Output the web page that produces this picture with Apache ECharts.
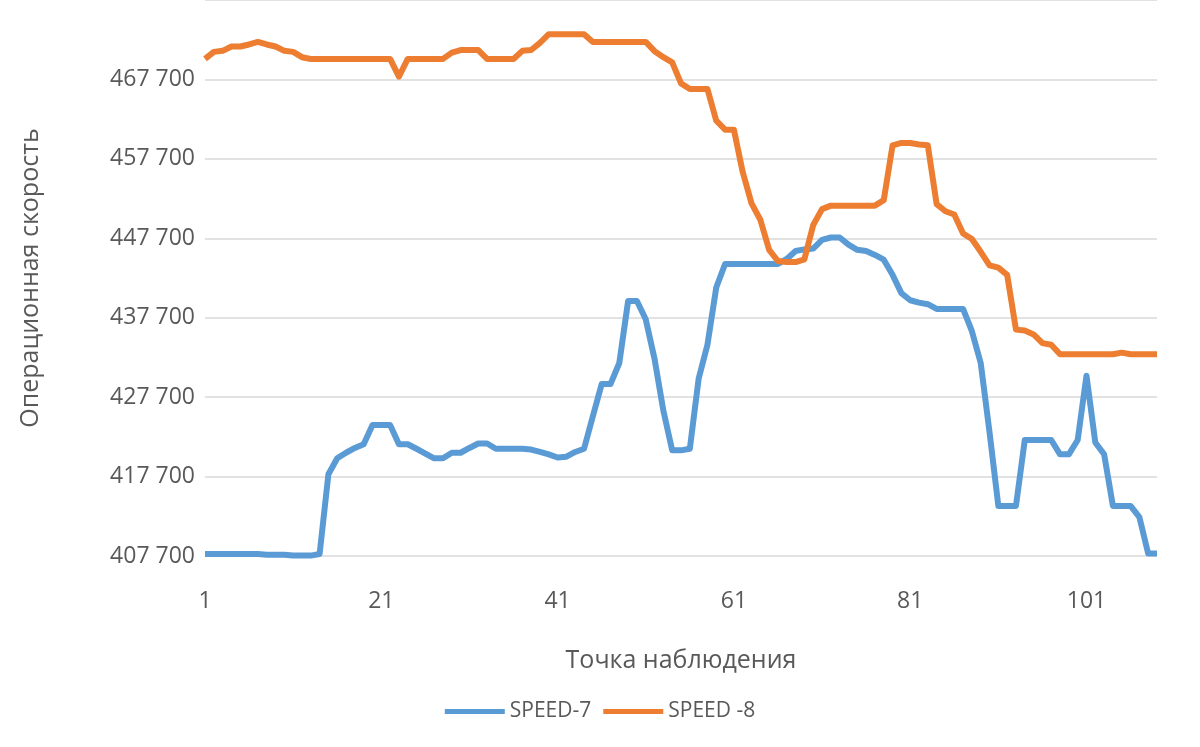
<!DOCTYPE html>
<html><head><meta charset="utf-8">
<script src="https://cdn.jsdelivr.net/npm/echarts@6/dist/echarts.min.js"></script>
<style>html,body{margin:0;padding:0;background:#fff}#c{width:1200px;height:747px}</style>
</head><body><div id="c"></div>
<script>
var categories = [];
for (var k = 1; k <= 109; k++) categories.push(String(k));
var speed7 = [407950,407950,407950,407950,407950,407950,407950,407850,407850,407850,
407750,407750,407750,407950,417990,420000,420700,421300,421770,424200,
424200,424200,421770,421770,421200,420600,420000,420000,420700,420700,
421300,421860,421860,421200,421200,421200,421200,421100,420800,420500,
420100,420200,420800,421200,425300,429340,429340,432000,439800,439800,
437500,432500,426000,421000,421000,421200,430000,434300,441500,444470,
444470,444470,444470,444470,444470,444470,445100,446100,446300,446400,
447500,447800,447800,446900,446250,446100,445600,445000,443100,440800,
439900,439600,439400,438800,438800,438800,438800,436000,432000,423300,
414000,414000,414000,422300,422300,422300,422300,420500,420500,422300,
430400,422000,420500,414000,414000,414000,412600,408000,408000];
var speed8 = [470280,471170,471300,471840,471840,472100,472420,472100,471840,471300,
471170,470500,470280,470280,470280,470280,470280,470280,470280,470280,
470280,470280,468050,470280,470280,470280,470280,470280,471080,471400,
471400,471400,470280,470280,470280,470280,471300,471400,472300,473400,
473400,473400,473400,473400,472420,472420,472420,472420,472420,472420,
472420,471260,470500,469840,467200,466500,466500,466500,462500,461380,
461380,456040,452100,450030,446250,444830,444700,444700,445050,449370,
451370,451810,451810,451810,451810,451810,451810,452500,459400,459700,
459700,459500,459400,452000,451100,450700,448300,447600,446000,444300,
444000,443100,436200,436100,435600,434500,434300,433100,433100,433100,
433100,433100,433100,433100,433300,433100,433100,433100,433100];
var yMin = 407700, yMax = 477700, yStep = 10000;
var font = '"Open Sans", "Noto Sans", sans-serif';
var chart = echarts.init(document.getElementById('c'));
chart.setOption({
  animation: false,
  grid: {left: 205, right: 43, top: -5, bottom: 191, containLabel: false},
  legend: {
    bottom: 20, left: 'center', icon: 'rect', itemWidth: 60, itemHeight: 5, itemGap: 12,
    textStyle: {fontSize: 21, color: '#595959', fontFamily: font},
    data: ['SPEED-7', 'SPEED -8']
  },
  xAxis: {
    type: 'category', data: categories, boundaryGap: false,
    name: 'Точка наблюдения', nameLocation: 'middle', nameGap: 92,
    nameTextStyle: {fontSize: 25, color: '#595959', fontFamily: font},
    axisLine: {show: false}, axisTick: {show: false},
    axisLabel: {interval: 19, fontSize: 23, color: '#595959', margin: 34, fontFamily: font}
  },
  yAxis: {
    type: 'value', min: yMin, max: yMax, interval: yStep,
    name: 'Операционная скорость', nameLocation: 'middle', nameGap: 162,
    nameTextStyle: {fontSize: 25, color: '#595959', fontFamily: font},
    axisLine: {show: false}, axisTick: {show: false},
    splitLine: {lineStyle: {color: '#d9d9d9', width: 1.5}},
    axisLabel: {fontSize: 23, color: '#595959', margin: 10, fontFamily: font,
      formatter: function (v) { if (v >= yMax) return ''; var s = String(v); return s.slice(0, s.length - 3) + ' ' + s.slice(-3); }}
  },
  series: [
    {name: 'SPEED-7', type: 'line', data: speed7, showSymbol: false, symbol: 'none',
     lineStyle: {width: 6, color: '#5B9BD5', join: 'round'}, itemStyle: {color: '#5B9BD5'}},
    {name: 'SPEED -8', type: 'line', data: speed8, showSymbol: false, symbol: 'none',
     lineStyle: {width: 6, color: '#ED7D31', join: 'round'}, itemStyle: {color: '#ED7D31'}}
  ]
});
</script></body></html>
